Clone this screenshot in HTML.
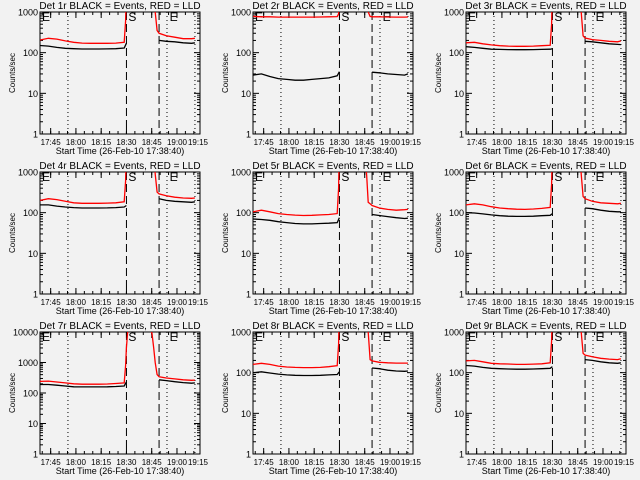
<!DOCTYPE html>
<html><head><meta charset="utf-8"><style>
html,body{margin:0;padding:0;background:#f2f2f2;}
svg{display:block;font-family:"Liberation Sans",sans-serif;}
</style></head><body>
<svg id="chart" width="640" height="480" viewBox="0 0 640 480"></svg>
<script>
// Shared time samples (minutes after 17:38:40)
const blackTimes1 = [0,5,10,15,20,25,30,35,40,45,50,51.3];
const redTimes1 = [0,5,10,15,20,25,30,35,40,45,50,50.8,51.3,52.5];
const blackTimes2 = [70.7,75,80,85,90,92];
const redTimes2 = [64,66.5,67.5,68.4,69.5,70.7,75,80,85,90,92];
const tickTimes = [6.33,21.33,36.33,51.33,66.33,81.33,96.33];
const tickLabels = ["17:45","18:00","18:15","18:30","18:45","19:00","19:15"];
const detNames = ["1r","2r","3r","4r","5r","6r","7r","8r","9r"];
const yMax = [1000,1000,1000,1000,1000,1000,10000,1000,1000];
const black1 = [
 [150,145,135,128,125,123,123,123,124,125,130,170],
 [28,30,26,23,22,21,21,22,23,24,27,34],
 [140,135,128,122,120,119,118,118,119,120,122,125],
 [155,155,145,138,133,130,130,130,131,133,138,150],
 [70,68,65,60,57,54,53,53,54,55,57,75],
 [100,98,93,88,84,82,81,81,82,84,86,95],
 [190,190,180,170,160,158,158,158,160,163,170,230],
 [100,105,98,92,88,86,85,85,86,88,90,105],
 [150,145,135,128,125,123,122,122,123,125,128,140]];
const red1 = [
 [205,225,215,195,180,172,170,170,170,172,180,600,5000,20000],
 [780,760,760,750,750,750,750,750,755,760,770,900,5000,20000],
 [175,180,165,155,148,145,143,143,145,148,152,500,5000,20000],
 [200,220,210,190,175,170,170,170,172,175,185,600,5000,20000],
 [105,115,105,95,90,87,85,86,88,90,95,400,5000,20000],
 [155,165,155,140,130,125,122,120,123,127,135,500,5000,20000],
 [240,245,230,215,200,195,195,195,198,205,215,800,3000,20000],
 [160,170,160,145,138,135,133,133,135,140,148,500,5000,20000],
 [195,200,185,170,165,163,160,160,162,165,175,600,5000,20000]];
const black2 = [
 [200,190,185,175,170,175],
 [33,32,30,29,28,30],
 [190,185,175,165,160,158],
 [220,200,190,185,180,185],
 [90,85,80,75,72,73],
 [130,125,115,108,105,105],
 [270,255,235,220,210,215],
 [130,125,115,110,108,110],
 [210,200,185,175,170,175]];
const red2 = [
 [20000,20000,5000,1000,350,300,260,240,220,220,225],
 [20000,20000,5000,1000,780,760,760,755,750,750,755],
 [20000,20000,5000,1000,260,230,210,200,190,185,195],
 [20000,20000,5000,900,320,290,260,240,230,225,230],
 [20000,3000,800,180,165,150,130,120,115,118,120],
 [20000,20000,5000,900,250,220,190,175,170,165,170],
 [20000,9000,3000,1000,400,340,310,290,270,260,265],
 [20000,20000,5000,1000,210,195,180,175,172,172,172],
 [20000,20000,5000,1000,300,270,245,225,215,210,220]];
const dashedTimes = [51.33,70.7];
const dottedTimes = [16.6,75.4,92];
const markerTimes = [1.2,52.5,77];
const markerLabels = ["E","S","E"];

const NS="http://www.w3.org/2000/svg";
const svg=document.getElementById('chart');
function mk(tag,attrs,parent){const e=document.createElementNS(NS,tag);for(const k in attrs)e.setAttribute(k,attrs[k]);(parent||svg).appendChild(e);return e;}
const L=40,R=200,T=12,B=134,TSPAN=95;

for(let p=0;p<9;p++){
  const ox=(p%3)*213, oy=Math.floor(p/3)*160;
  const g=mk('g',{transform:`translate(${ox},${oy})`});
  
  
  const ymax=yMax[p], ld=Math.log10(ymax);
  const xs=t=>L+t*(R-L)/TSPAN;
  const ys=v=>B-(Math.log10(v)/ld)*(B-T);
  const cp=mk('clipPath',{id:'cp'+p},g);
  mk('rect',{x:L,y:T,width:R-L,height:B-T},cp);

  const title=mk('text',{x:120,y:9,'font-size':10,'text-anchor':'middle',fill:'#000'},g);
  title.textContent='Det '+detNames[p]+' BLACK = Events, RED = LLD';
  
  

  const box=mk('rect',{x:L,y:T,width:R-L,height:B-T,fill:'none',stroke:'#000','stroke-width':1},g);
  
  

  for(let d=0;d<=ld;d++){
    const v=Math.pow(10,d), y=ys(v);
    mk('line',{x1:L,x2:L+6,y1:y,y2:y,stroke:'#000'},g);
    mk('line',{x1:R-6,x2:R,y1:y,y2:y,stroke:'#000'},g);
    const tl=mk('text',{x:L-2,y:y+3.5,'font-size':9,'text-anchor':'end',fill:'#000'},g);
    tl.textContent=String(v);
    
    
    if(d<ld){for(let m=2;m<10;m++){const ym=ys(v*m);
      mk('line',{x1:L,x2:L+3,y1:ym,y2:ym,stroke:'#000'},g);
      mk('line',{x1:R-3,x2:R,y1:ym,y2:ym,stroke:'#000'},g);}}
  }
  const yl=mk('text',{x:0,y:0,'font-size':8,'text-anchor':'middle',fill:'#000',transform:`translate(15,${(T+B)/2}) rotate(-90)`},g);
  yl.textContent='Counts/sec';
  
  

  for(let i=0;i<tickTimes.length;i++){
    const x=xs(tickTimes[i]);
    if(x<=R+0.5){mk('line',{x1:x,x2:x,y1:B,y2:B-6,stroke:'#000'},g);mk('line',{x1:x,x2:x,y1:T,y2:T+6,stroke:'#000'},g);}
    const xl=mk('text',{x:Math.min(x,198),y:145,'font-size':8,'text-anchor':'middle',fill:'#000'},g);
    xl.textContent=tickLabels[i];
    
    
  }
  for(let t=1.33;t<TSPAN;t+=5){const x=xs(t);mk('line',{x1:x,x2:x,y1:B,y2:B-3,stroke:'#000'},g);mk('line',{x1:x,x2:x,y1:T,y2:T+3,stroke:'#000'},g);}
  const xt=mk('text',{x:120,y:154,'font-size':9,'text-anchor':'middle',fill:'#000'},g);
  xt.textContent='Start Time (26-Feb-10 17:38:40)';
  
  

  for(const t of dashedTimes){const l=mk('line',{x1:xs(t),x2:xs(t),y1:T,y2:B,stroke:'#000','stroke-dasharray':'8,4'},g);
    
    }
  for(const t of dottedTimes){const l=mk('line',{x1:xs(t),x2:xs(t),y1:T,y2:B,stroke:'#000','stroke-dasharray':'1,3'},g);
    
    }
  for(let i=0;i<markerTimes.length;i++){const m=mk('text',{x:xs(markerTimes[i]),y:T+9,'font-size':12,fill:'#000'},g);
    m.textContent=markerLabels[i];
    
    }

  const draw=(times,vals,color,name)=>{
    const pts=times.map((t,i)=>xs(t).toFixed(1)+','+ys(vals[i]).toFixed(1)).join(' ');
    const pl=mk('polyline',{points:pts,fill:'none',stroke:color,'stroke-width':1.3,'clip-path':`url(#cp${p})`},g);
    
    
  };
  draw(redTimes1,red1[p],'#ff0000','red-lld-before');
  draw(redTimes2,red2[p],'#ff0000','red-lld-after');
  draw(blackTimes1,black1[p],'#000','black-events-before');
  draw(blackTimes2,black2[p],'#000','black-events-after');
}
</script>
</body></html>
